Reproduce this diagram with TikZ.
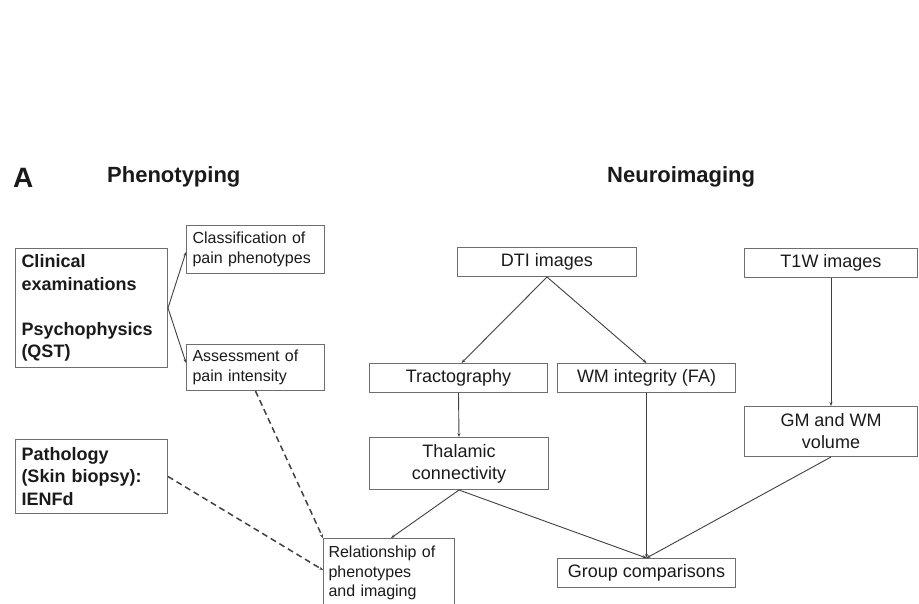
\documentclass[tikz,border=0pt]{standalone}
\usepackage{fontspec}
\setmainfont{Liberation Sans}
\usetikzlibrary{arrows.meta,calc}
\definecolor{boxc}{HTML}{6E6E6E}
\definecolor{linec}{HTML}{404040}
\definecolor{txt}{HTML}{1A1A1A}
\begin{document}
\begin{tikzpicture}[x=1pt,y=-1pt,
  box/.style={draw=boxc,line width=1pt,anchor=north west,inner sep=0pt,text=txt},
  rbox/.style={box,align=center,font=\fontsize{18}{22}\selectfont},
  lbox/.style={box,align=left,font=\fontsize{16}{19.5}\selectfont},
  bbox/.style={box,align=left,font=\fontsize{18}{22.5}\selectfont\bfseries},
  arr/.style={draw=linec,line width=0.9pt,-{Stealth[length=4pt,width=3pt]}},
  darr/.style={arr,dashed,dash pattern=on 6pt off 4pt,line width=1.5pt},
  head/.style={anchor=west,text=txt,font=\fontsize{22}{26}\selectfont\bfseries}]
\useasboundingbox (0,0) rectangle (919,603);
% headers
\node[head,font=\fontsize{28}{30}\selectfont\bfseries,inner sep=0pt] (hA) at (13,178) {A};
\node[head,inner sep=0pt] (hP) at (107,177) {Phenotyping};
\node[head,inner sep=0pt] (hN) at (607,177) {Neuroimaging};
% phenotyping boxes
\node[bbox,minimum width=152pt,minimum height=119pt,text width=140pt] (clin) at (15,248)
  {Clinical\\examinations\\[22.5pt]Psychophysics\\(QST)};
\node[lbox,minimum width=138pt,minimum height=48pt,text width=126pt] (class) at (186,225)
  {Classification of\\pain phenotypes};
\node[lbox,minimum width=138pt,minimum height=46pt,text width=126pt] (assess) at (186,344)
  {Assessment of\\pain intensity};
\node[bbox,minimum width=152pt,minimum height=74pt,text width=140pt] (path) at (15,439)
  {Pathology\\(Skin biopsy):\\IENFd};
\node[lbox,minimum width=131pt,minimum height=69pt,text width=121pt] (rel) at (323,538)
  {Relationship of\\phenotypes\\and imaging};
% neuroimaging boxes
\node[rbox,minimum width=179pt,minimum height=29pt] (dti) at (457,247) {DTI images};
\node[rbox,minimum width=173pt,minimum height=29pt] (t1w) at (744,248) {T1W images};
\node[rbox,minimum width=178pt,minimum height=29pt] (tract) at (369,363) {Tractography};
\node[rbox,minimum width=178pt,minimum height=29pt] (wm) at (557,363) {WM integrity (FA)};
\node[rbox,minimum width=179pt,minimum height=52pt] (thal) at (369,437) {Thalamic\\connectivity};
\node[rbox,minimum width=173pt,minimum height=50pt] (gm) at (744,406) {GM and WM\\volume};
\node[rbox,minimum width=178pt,minimum height=29pt] (grp) at (557,558) {Group comparisons};
% connectors
\draw[arr] (clin.east) -- ($(class.north west)!0.55!(class.south west)$);
\draw[arr] (clin.east) -- ($(assess.north west)!0.4!(assess.south west)$);
\draw[darr] (assess.south) -- (rel.north west);
\draw[darr] (path.east) -- ($(rel.north west)+(0,32)$);
\draw[arr] (dti.south) -- ($(tract.north)+(3,0)$);
\draw[arr] (dti.south) -- (wm.north);
\draw[arr] (tract.south) -- (thal.north);
\draw[arr] (t1w.south) -- (gm.north);
\draw[arr] (thal.south) -- ($(rel.north)+(2,0)$);
\draw[arr] (thal.south) -- (grp.north);
\draw[arr] (wm.south) -- (grp.north);
\draw[arr] (gm.south) -- (grp.north);
\end{tikzpicture}
\end{document}
